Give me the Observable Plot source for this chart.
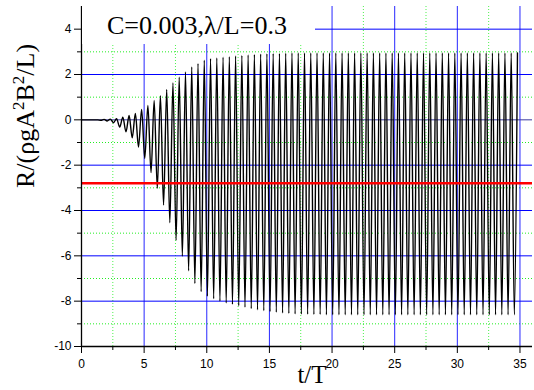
<!DOCTYPE html>
<html><head><meta charset="utf-8">
<script src="https://cdn.jsdelivr.net/npm/d3@7"></script>
<script src="https://cdn.jsdelivr.net/npm/@observablehq/plot@0.6"></script>
<style>
body{margin:0;background:#fff;}
#wrap{position:relative;width:534px;height:390px;overflow:hidden;}
#title{position:absolute;left:82px;top:0;width:233px;height:44px;background:#fff;
 font-family:"Liberation Serif","Times New Roman",serif;font-size:26px;color:#000;}
#title span{position:absolute;left:25px;top:11px;white-space:nowrap;}
</style></head><body>
<div id="wrap"><div id="title"><span>C=0.003,λ/L=0.3</span></div></div>
<script>
// ticks
const xMajorTicks = [0, 5, 10, 15, 20, 25, 30, 35];
const xMinorTicks = [2.5, 7.5, 12.5, 17.5, 22.5, 27.5, 32.5];
const yMajorTicks = [-10, -8, -6, -4, -2, 0, 2, 4];
const yMinorTicks = [-9, -7, -5, -3, -1, 1, 3];
// mean level (red line)
const meanLevel = -2.8;
// signal: flat start, then one trough and one crest per cycle
const leadT = [0, 1.3];
const leadR = [0, 0];
const cycleStart = 1.55;
const cyclePeriod = 0.5;
const crestLag = 0.25;
const troughs = [-0.02,-0.05,-0.13,-0.32,-0.53,-0.79,-1.2,-1.7,-2.33,-3.02,
 -3.76,-4.54,-5.31,-6.02,-6.66,-7.22,-7.58,-7.78,-7.89,-8.0,
 -8.08,-8.14,-8.2,-8.27,-8.33,-8.38,-8.42,-8.46,-8.49,-8.52,
 -8.54,-8.56,-8.57,-8.58,-8.59,-8.59,-8.6,-8.6,-8.6,-8.6,
 -8.6,-8.6,-8.6,-8.6,-8.6,-8.6,-8.6,-8.6,-8.6,-8.6,
 -8.6,-8.6,-8.6,-8.6,-8.6,-8.6,-8.6,-8.6,-8.6,-8.6,
 -8.6,-8.6,-8.6,-8.6,-8.6,-8.6,-8.6];
const crests = [0.02,0.03,0.05,0.12,0.19,0.28,0.46,0.63,0.85,1.07,
 1.34,1.63,1.88,2.11,2.33,2.48,2.63,2.70,2.73,2.76,
 2.78,2.82,2.84,2.86,2.88,2.90,2.91,2.92,2.93,2.94,
 2.95,2.95,2.95,2.95,2.95,2.95,2.95,2.95,2.95,2.95,
 2.95,2.95,2.95,2.95,2.95,2.95,2.95,2.95,2.95,2.95,
 2.95,2.95,2.95,2.95,2.95,2.95,2.95,2.95,2.95,2.95,
 2.95,2.95,2.95,2.95,2.95,2.95,2.95];

const series = leadT.map((t, i) => ({t, r: leadR[i]}));
troughs.forEach((v, k) => {
  const t = cycleStart + k * cyclePeriod;
  series.push({t, r: v});
  series.push({t: t + crestLag, r: crests[k]});
});

const fmt = d => String(d);
const chart = Plot.plot({
  width: 534, height: 390,
  marginLeft: 81, marginRight: 2, marginTop: 6, marginBottom: 44,
  x: {domain: [0, 36]},
  y: {domain: [-10, 5]},
  style: {fontFamily: "'Liberation Sans', Arial, sans-serif", fontSize: "12px", color: "#000", background: "#fff"},
  marks: [
    Plot.ruleY(yMinorTicks, {stroke: "#22ee22", strokeDasharray: "1,2"}),
    Plot.ruleX(xMinorTicks, {stroke: "#22ee22", strokeDasharray: "1,2", strokeOpacity: 0.8}),
    Plot.ruleY(yMajorTicks.filter(v => v > -10 && v !== 0), {stroke: "#0000ff"}),
    Plot.ruleX(xMajorTicks.filter(v => v > 0), {stroke: "#0000ff", strokeOpacity: 0.85}),
    Plot.ruleY([0], {stroke: "#3a3aa0"}),
    Plot.line(series, {x: "t", y: "r", stroke: "#000", strokeWidth: 1.4, curve: "monotone-x"}),
    Plot.ruleY([meanLevel], {stroke: "#ff0000", strokeWidth: 2.5}),
    Plot.axisX({ticks: xMajorTicks, tickSize: 7, tickPadding: 6, tickFormat: fmt, label: null}),
    Plot.axisX({ticks: xMinorTicks, tickSize: 4, tickFormat: () => "", label: null}),
    Plot.axisY({ticks: yMajorTicks, tickSize: 7, tickPadding: 3, tickFormat: fmt, label: null}),
    Plot.axisY({ticks: yMinorTicks, tickSize: 4, tickFormat: () => "", label: null}),
    Plot.ruleX([0], {stroke: "#000", strokeWidth: 1.3}),
    Plot.ruleY([-10], {stroke: "#000", strokeWidth: 1.3})
  ]
});

const svg = d3.select(chart);
const serif = "'Liberation Serif','Times New Roman',serif";
const yl = svg.append("text")
  .attr("transform", "translate(34,116) rotate(-90)")
  .attr("text-anchor", "middle")
  .style("font-family", serif).style("font-size", "26px").attr("fill", "#000");
yl.append("tspan").text("R/(ρgA");
yl.append("tspan").attr("dy", -10).style("font-size", "17px").text("2");
yl.append("tspan").attr("dy", 10).text("B");
yl.append("tspan").attr("dy", -10).style("font-size", "17px").text("2");
yl.append("tspan").attr("dy", 10).text("/L)");
svg.append("text")
  .attr("x", 312).attr("y", 383)
  .attr("text-anchor", "middle")
  .style("font-family", serif).style("font-size", "25px").attr("fill", "#000")
  .text("t/T");

const wrap = document.getElementById("wrap");
wrap.insertBefore(chart, wrap.firstChild);
</script>
</body></html>
